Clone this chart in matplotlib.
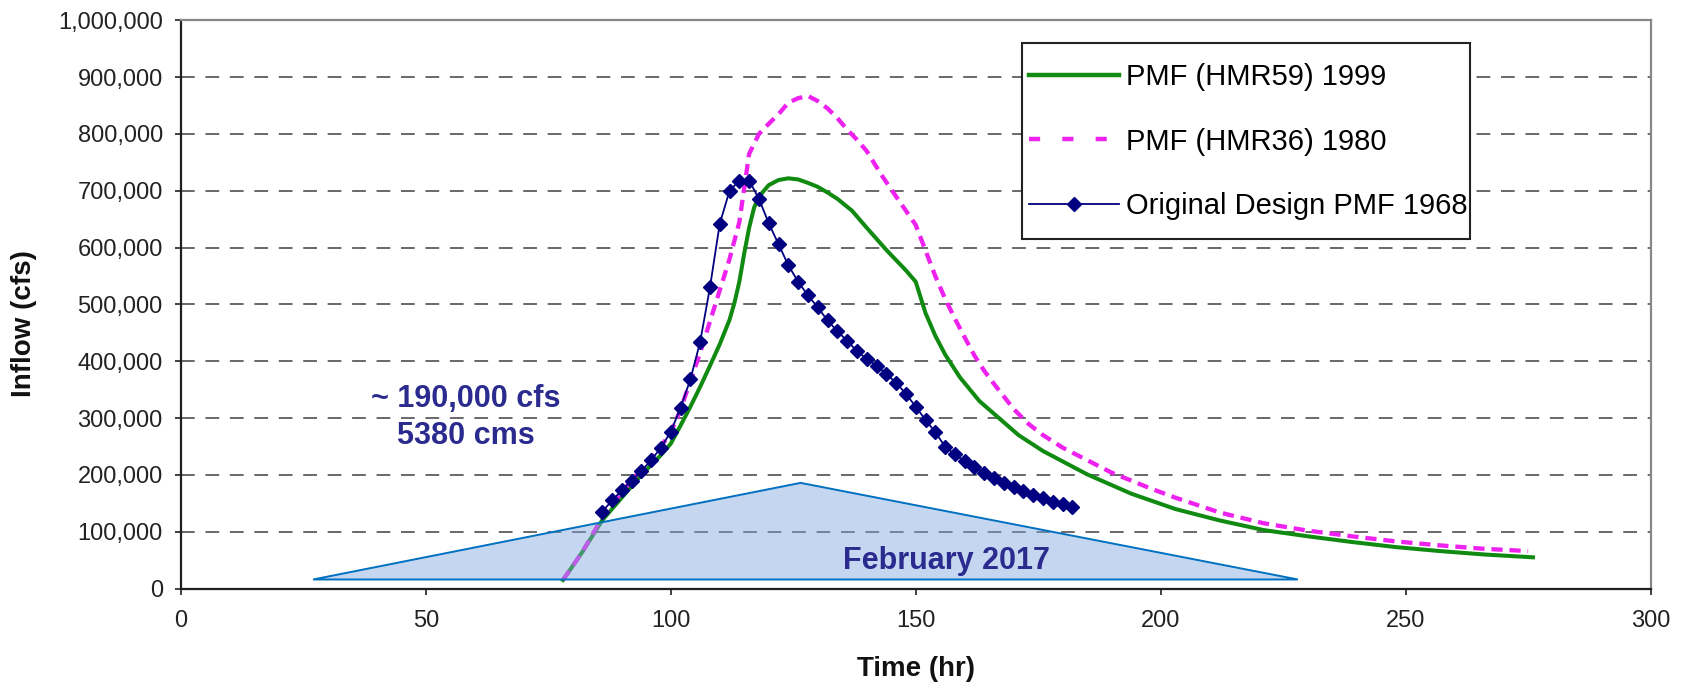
import matplotlib
matplotlib.use("Agg")
import matplotlib.pyplot as plt
from matplotlib.lines import Line2D
from matplotlib.patches import Rectangle
from matplotlib.ticker import FuncFormatter, MultipleLocator

# ---------------- data ----------------
hmr59_t = [78, 82, 86, 90, 94, 98, 100, 102, 104, 106, 108, 110, 112, 113, 114, 115, 116, 117, 118,
           120, 122, 124, 126, 128, 130, 132, 134, 137, 140, 144, 148, 150, 152, 154, 156, 159, 163,
           167, 171, 176, 185, 194, 203, 212, 221, 230, 239, 248, 257, 266, 276]
hmr59_q = [15000, 65000, 120000, 160000, 200000, 235000, 255000, 287000, 320000, 355000, 392000,
           430000, 473000, 503000, 540000, 590000, 635000, 670000, 690000,
           710000, 719000, 722000, 720000, 714000, 707000, 697000, 686000, 665000, 635000, 596000,
           560000, 540000, 485000, 445000, 412000, 372000, 330000,
           300000, 270000, 242000, 201000, 167000, 140000, 120000, 103000, 92000, 82000, 73000,
           66000, 60000, 55000]

hmr36_t = [78, 82, 86, 90, 94, 98, 100, 102, 104, 106, 108, 110, 112, 114, 116, 118, 120, 122, 124,
           126, 128, 130, 132, 134, 136, 138, 140, 143, 146, 150, 152, 154, 156, 158, 160, 162, 164,
           166, 168, 170, 173, 176, 180, 185, 190, 194, 198, 203, 212, 221, 230, 239, 248, 257, 266,
           275]
hmr36_q = [15000, 65000, 125000, 170000, 210000, 250000, 275000, 315000, 365000, 415000, 470000,
           525000, 580000, 645000, 765000, 800000, 818000, 835000, 855000,
           863000, 867000, 858000, 845000, 828000, 808000, 790000, 770000, 728000, 690000, 640000,
           595000, 550000, 510000, 475000, 442000, 410000, 383000,
           360000, 338000, 316000, 290000, 270000, 248000, 226000, 204000, 190000, 176000, 160000,
           134000, 115000, 102000, 92000, 83000, 76000, 70000, 66000]

orig_t = list(range(86, 183, 2))
orig_q = [135000, 155000, 173000, 190000, 207000, 226000, 248000, 276000, 318000, 368000,
          434000, 530000, 642000, 700000, 718000, 718000, 686000, 643000, 606000, 569000,
          540000, 516000, 495000, 472000, 453000, 436000, 418000, 404000, 392000, 378000,
          362000, 343000, 320000, 297000, 275000, 250000, 236000, 224000, 214000, 204000,
          195000, 186000, 178000, 171000, 165000, 159000, 153000, 148000, 143000]

tri_t = [27, 126.5, 228]
tri_q = [16000, 186000, 16000]

labels = ["PMF (HMR59) 1999", "PMF (HMR36) 1980", "Original Design PMF 1968"]
ann_peak = "~ 190,000 cfs\n5380 cms"
ann_event = "February 2017"

GREEN = "#118a11"
MAGENTA = "#ee22ee"
NAVY = "#000080"

# ---------------- figure ----------------
plt.rcParams["font.family"] = ["Liberation Sans", "DejaVu Sans"]

fig = plt.figure(figsize=(16.87, 6.90), dpi=100)
ax = fig.add_axes([0.1072, 0.147, 0.8712, 0.8235])

ax.set_xlim(0, 300)
ax.set_ylim(0, 1000000)
ax.xaxis.set_major_locator(MultipleLocator(50))
ax.yaxis.set_major_locator(MultipleLocator(100000))
ax.yaxis.set_major_formatter(FuncFormatter(lambda v, p: f"{int(round(v)):,}"))

ax.yaxis.grid(True, linestyle=(0, (9, 7)), linewidth=1.1, color="#404040", zorder=0)
ax.set_axisbelow(True)

ax.plot(hmr59_t, hmr59_q, color=GREEN, linewidth=2.9, zorder=3)
ax.plot(hmr36_t, hmr36_q, color=MAGENTA, linewidth=3.1, linestyle=(0, (2.6, 1.6)), zorder=4)
ax.plot(orig_t, orig_q, color=NAVY, linewidth=1.3, marker="D", markersize=7.3, zorder=5)

ax.fill(tri_t, tri_q, facecolor="#7fa7de", alpha=0.45, edgecolor="none", zorder=6)
ax.fill(tri_t, tri_q, facecolor="none", edgecolor="#0070c0", linewidth=1.4, zorder=6)

ax.text(58.2, 301000, ann_peak, ha="center", va="center", fontsize=22, fontweight="bold",
        color="#2b2b8f", linespacing=1.3, zorder=7)
ax.text(156.3, 49000, ann_event, ha="center", va="center", fontsize=22, fontweight="bold",
        color="#2b2b8f", zorder=7)

for s in ("left", "bottom"):
    ax.spines[s].set_color("#202020")
    ax.spines[s].set_linewidth(1.6)
for s in ("top", "right"):
    ax.spines[s].set_color("#888888")
    ax.spines[s].set_linewidth(1.6)

ax.tick_params(axis="both", direction="out", length=4.5, width=1.2, color="#202020",
               labelsize=17, labelcolor="#222222")
ax.tick_params(axis="x", pad=11)
ax.tick_params(axis="y", pad=8.5)

ax.set_xlabel("Time (hr)", fontsize=20, fontweight="bold", color="#111111")
ax.set_ylabel("Inflow (cfs)", fontsize=20, fontweight="bold", color="#111111")
ax.xaxis.label.set_va("center")
ax.yaxis.label.set_va("center")
ax.xaxis.set_label_coords(0.5, -0.142)
ax.yaxis.set_label_coords(-0.107, 0.467)

# legend frame (drawn separately so vertical and horizontal padding can differ)
box_x0, box_x1, box_y0, box_y1 = 0.5724, 0.8772, 0.6153, 0.9608
ax.add_patch(Rectangle((box_x0, box_y0), box_x1 - box_x0, box_y1 - box_y0,
                       transform=ax.transAxes, facecolor="white", edgecolor="#222222",
                       linewidth=1.5, zorder=9, clip_on=False))

handles = [
    Line2D([], [], color=GREEN, linewidth=3.2),
    Line2D([], [], color=MAGENTA, linewidth=3.2, linestyle=(0, (2.5, 5))),
    Line2D([], [], color=NAVY, linewidth=1.3, marker="D", markersize=7.3),
]
leg = ax.legend(handles, labels, loc="center left", bbox_to_anchor=(box_x0, 0.7865),
                borderaxespad=0, fontsize=21, frameon=False, numpoints=1,
                handlelength=3.08, handletextpad=0.24, labelspacing=1.26, borderpad=0.24)
leg.set_zorder(10)

fig.savefig("out.png", dpi=100, facecolor="white")
